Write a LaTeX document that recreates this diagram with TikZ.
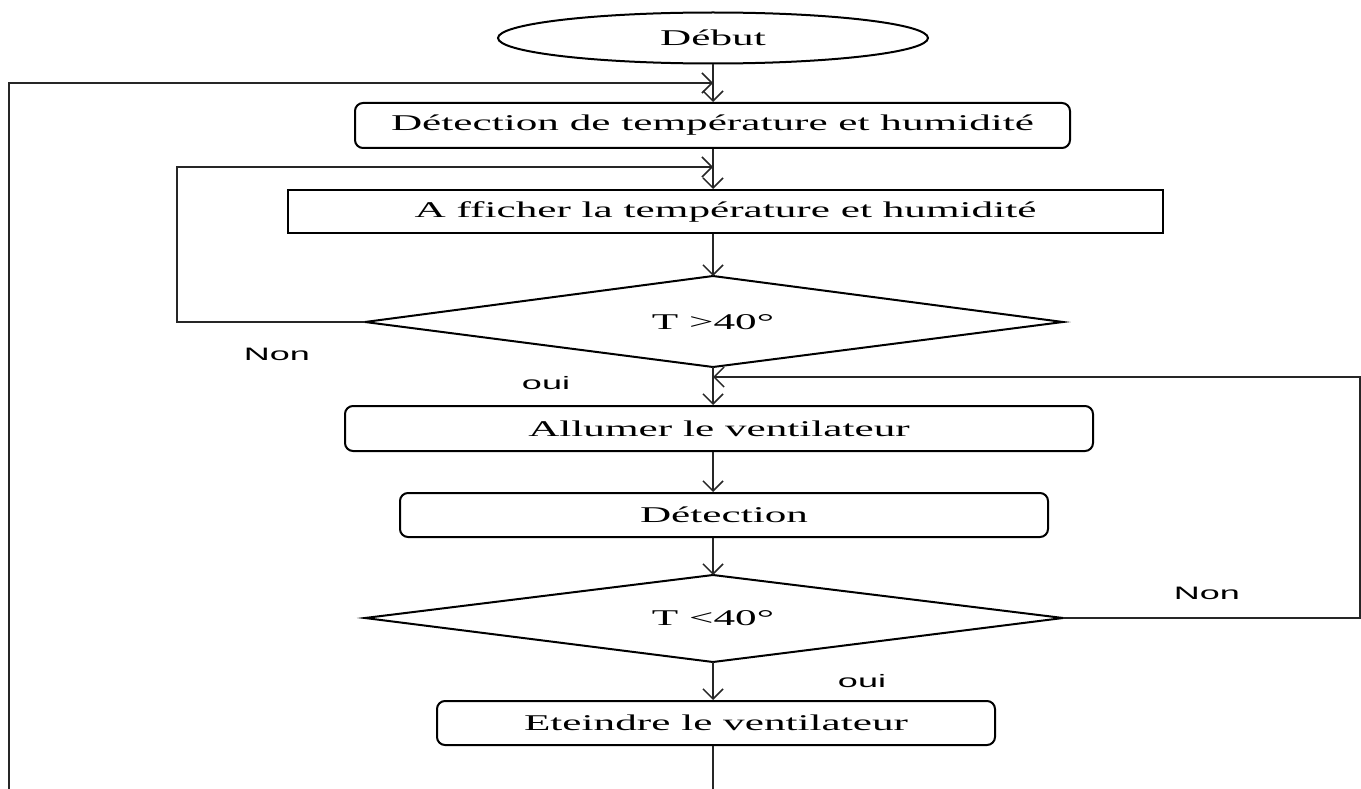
\documentclass[tikz,border=0pt]{standalone}
\usepackage{fontspec}
\usetikzlibrary{arrows.meta,calc}
\usetikzlibrary{shapes.geometric}
\newfontfamily\labserif[FakeStretch=1.92]{Liberation Serif}
\newfontfamily\labsans[FakeStretch=2.0]{Liberation Sans}
\begin{document}
\begin{tikzpicture}[x=1pt,y=-1pt,
  box/.style={draw, line width=2pt, inner sep=0pt, font=\labserif\fontsize{22.5}{26}\selectfont},
  rbox/.style={box, rounded corners=8pt},
  dtext/.style={inner sep=0pt, font=\labserif\fontsize{22.5}{26}\selectfont},
  dshape/.style={line width=2pt, line join=miter},
  conn/.style={line width=1.5pt, draw=black!85},
  arr/.style={conn, -{Straight Barb[length=10pt,width=20pt,line width=1.5pt]}},
  lbl/.style={font=\labsans\fontsize{18}{21}\selectfont, inner sep=0pt}]
\useasboundingbox (0,0) rectangle (1361,789);
\fill[white] (0,0) rectangle (1361,789);

\node[draw, ellipse, line width=2pt, minimum width=430pt, minimum height=51pt, inner sep=0pt,
      font=\labserif\fontsize{22.5}{26}\selectfont] (debut) at (713,38) {Début};
\node[rbox, minimum width=715pt, minimum height=45pt] (b1) at (712.5,125.5) {Détection de température et humidité};
\node[box, minimum width=875pt, minimum height=43pt] (b2) at (725.5,211.5) {A fficher la température et humidité};

% decision 1
\coordinate (d1n) at (713,276);
\coordinate (d1s) at (713,367);
\coordinate (d1w) at (365,322);
\coordinate (d1e) at (1063,322);
\draw[dshape] (d1n) -- (d1e) -- (d1s) -- (d1w) -- cycle;
\node[dtext] (d1) at (713,322) {T >40°};

\node[rbox, minimum width=748pt, minimum height=45pt] (b3) at (719,428.5) {Allumer le ventilateur};
\node[rbox, minimum width=648pt, minimum height=44pt] (b4) at (724,515) {Détection};

% decision 2
\coordinate (d2n) at (713,575);
\coordinate (d2s) at (713,662);
\coordinate (d2w) at (365,618);
\coordinate (d2e) at (1063,618);
\draw[dshape] (d2n) -- (d2e) -- (d2s) -- (d2w) -- cycle;
\node[dtext] (d2) at (713,618) {T <40°};

\node[rbox, minimum width=558pt, minimum height=44pt] (b5) at (716,723) {Eteindre le ventilateur};

\node[lbl] (non1) at (277,354) {Non};
\node[lbl] (oui1) at (546,383) {oui};
\node[lbl] (non2) at (1207,593) {Non};
\node[lbl] (oui2) at (862,681) {oui};

% main flow
\draw[arr] (debut.south) -- (debut.south |- b1.north);
\draw[arr] (debut.south |- b1.south) -- (debut.south |- b2.north);
\draw[arr] (debut.south |- b2.south) -- (d1n);
\draw[arr] (d1s) -- (d1s |- b3.north);
\draw[arr] (d1s |- b3.south) -- (d1s |- b4.north);
\draw[arr] (d1s |- b4.south) -- (d2n);
\draw[arr] (d2s) -- (d2s |- b5.north);

% loops
\coordinate (j1) at (713,83);
\coordinate (j2) at (713,167);
\coordinate (j3) at (713,377);
\coordinate (lx1) at (9,789);
\coordinate (lx2) at (177,322);
\coordinate (rx) at (1360,618);
\coordinate (bot) at (713,789);

\draw[arr] (lx1) |- (j1);
\draw[arr] (d1w) -- (lx2) |- (j2);
\draw[arr] (d2e) -- (rx) |- (j3);
\draw[conn] (d2s |- b5.south) -- (bot);
\end{tikzpicture}
\end{document}
